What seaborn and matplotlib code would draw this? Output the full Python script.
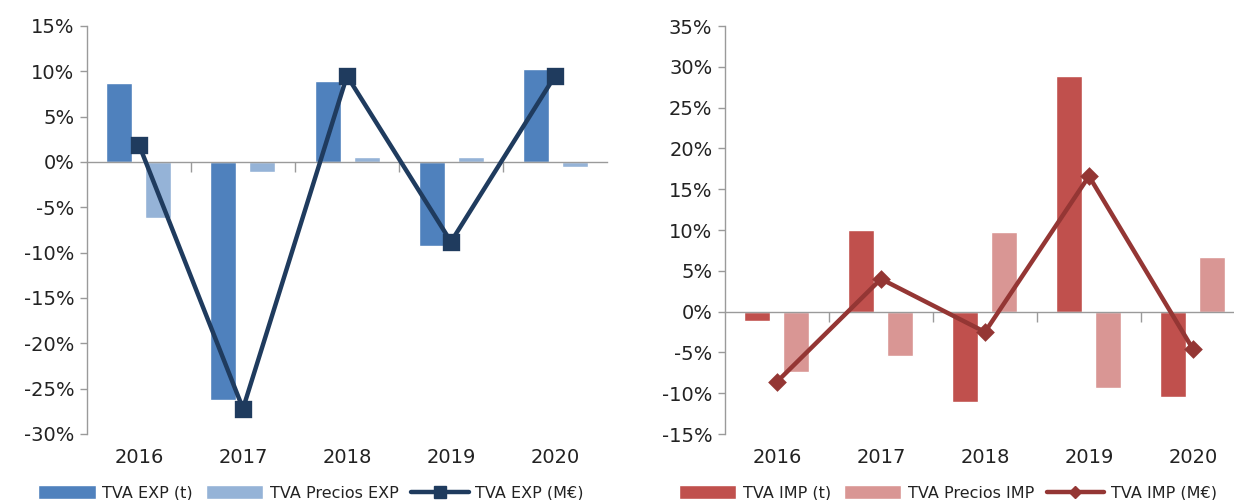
import matplotlib
matplotlib.use("Agg")
import matplotlib.pyplot as plt
from matplotlib.patches import Patch
from matplotlib.lines import Line2D
from matplotlib.ticker import FuncFormatter
import pandas as pd
import seaborn as sns

sns.set_theme(style="white")
plt.rcParams['font.family'] = ['DejaVu Sans']

years = ["2016", "2017", "2018", "2019", "2020"]

# exportaciones (%)
exp_t = [8.7, -26.3, 8.9, -9.3, 10.3]
exp_precios = [-6.2, -1.1, 0.5, 0.5, -0.6]
exp_meur = [1.9, -27.2, 9.5, -8.8, 9.5]

# importaciones (%)
imp_t = [-1.2, 10.0, -11.1, 28.9, -10.5]
imp_precios = [-7.4, -5.4, 9.7, -9.4, 6.7]
imp_meur = [-8.6, 4.0, -2.5, 16.6, -4.6]

exp_labels = ["TVA EXP (t)", "TVA Precios EXP", "TVA EXP (M€)"]
imp_labels = ["TVA IMP (t)", "TVA Precios IMP", "TVA IMP (M€)"]

exp_colors = ["#4F81BD", "#95B3D7", "#1F3B5E"]
imp_colors = ["#C0504D", "#D99694", "#943634"]

GRAY = "#9a9a9a"
TXT = "#222222"


def draw_panel(ax, bars_a, bars_b, line, labels, colors, marker, msize, ylim, step):
    df = pd.DataFrame({
        "year": years * 2,
        "value": bars_a + bars_b,
        "series": [labels[0]] * len(years) + [labels[1]] * len(years),
    })
    sns.barplot(data=df, x="year", y="value", hue="series", order=years,
                palette=colors[:2], width=0.75, gap=1/3, saturation=1,
                legend=False, ax=ax)
    sns.pointplot(x=years, y=line, order=years, color=colors[2], marker=marker,
                  markersize=msize, linewidth=3.2, errorbar=None, ax=ax)

    lo, hi = ylim
    ax.set_ylim(lo, hi)
    ax.set_xlim(-0.5, 4.5)
    ax.set_yticks(range(lo, hi + 1, step))
    ax.yaxis.set_major_formatter(FuncFormatter(lambda v, p: f"{int(v)}%"))
    ax.set_xlabel("")
    ax.set_ylabel("")

    for s in ["top", "right", "bottom"]:
        ax.spines[s].set_visible(False)
    ax.spines["left"].set_color(GRAY)
    ax.spines["left"].set_linewidth(1)
    ax.tick_params(axis="y", direction="out", length=5, width=1, color=GRAY,
                   labelsize=14, labelcolor=TXT, left=True, pad=4)
    ax.tick_params(axis="x", length=0, labelsize=14, labelcolor=TXT, pad=10)

    # zero line with category separators, between bars and line
    zero = ax.secondary_xaxis((0 - lo) / (hi - lo))
    zero.set_alignment("bottom")
    zero.set_zorder(1.5)
    for s in zero.spines.values():
        s.set_color(GRAY)
        s.set_linewidth(1)
    zero.set_xticks([0.5, 1.5, 2.5, 3.5])
    zero.set_xticklabels([])
    zero.tick_params(direction="out", length=7, width=1, color=GRAY)

    handles = [
        Patch(facecolor=colors[0], label=labels[0]),
        Patch(facecolor=colors[1], label=labels[1]),
        Line2D([], [], color=colors[2], lw=3.2, marker=marker,
               markersize=msize * 0.8, label=labels[2]),
    ]
    return handles


fig = plt.figure(figsize=(12.34, 5.0), dpi=100)
ax1 = fig.add_axes([0.0705, 0.132, 0.4214, 0.816])
ax2 = fig.add_axes([0.5875, 0.132, 0.4214, 0.816])

h1 = draw_panel(ax1, exp_t, exp_precios, exp_meur, exp_labels, exp_colors,
                "s", 10, (-30, 15), 5)
h2 = draw_panel(ax2, imp_t, imp_precios, imp_meur, imp_labels, imp_colors,
                "D", 7.5, (-15, 35), 5)

for h, cx in [(h1, 0.252), (h2, 0.768)]:
    fig.legend(handles=h, loc="center", bbox_to_anchor=(cx, 0.014), ncol=3,
               frameon=False, fontsize=11.5, handlelength=3.6, handleheight=0.9,
               handletextpad=0.4, columnspacing=0.8, labelcolor=TXT)

fig.savefig("out.png", dpi=100, facecolor="white")
